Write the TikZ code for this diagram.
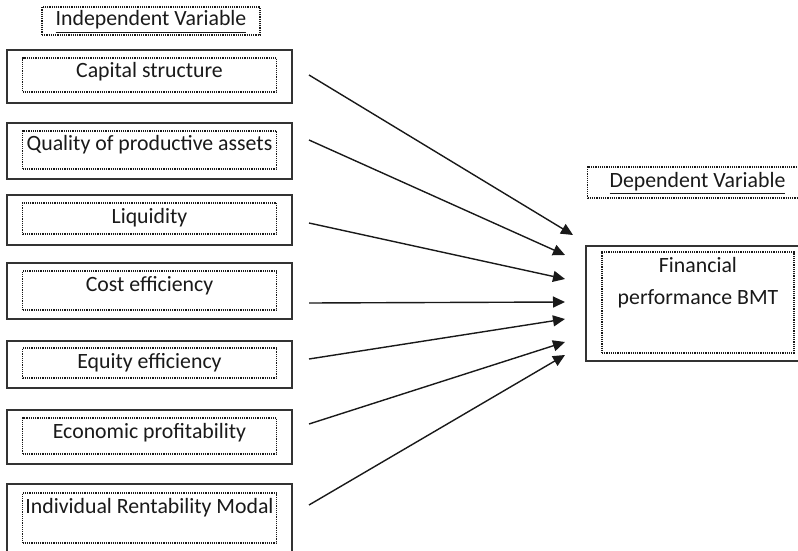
\documentclass[tikz,border=0pt]{standalone}
\usepackage{fontspec}
\setmainfont{Carlito}
\usetikzlibrary{arrows.meta,positioning}
\tikzstyle{varBox} = [rectangle, minimum width=142.5pt, outer sep=0pt, line width=1pt, draw=black!80]
\tikzstyle{varIn} = [rectangle, minimum width=127pt, outer sep=0pt, inner xsep=1pt, inner ysep=2.5pt, text height=7.5pt, anchor=north, line width=0.6pt, dash pattern=on 0.6pt off 0.5pt, draw=black!90, text=black!90]
\tikzstyle{headBox} = [rectangle, outer sep=0pt, inner ysep=2pt, text height=7.5pt, line width=0.6pt, dash pattern=on 0.6pt off 0.5pt, draw=black!90, text=black!90]
\tikzstyle{arrowK} = [line width=0.7pt, -{Triangle[length=6pt,width=5.5pt]}, draw=black!90]

\begin{document}
\begin{tikzpicture}[x=0.5pt, y=-0.5pt, font=\fontsize{10.9}{13}\selectfont]
        \clip (0,0) rectangle (798,551);

        \node (cap) [varBox, minimum height=26.5pt] at (149.5,76.5) {};
        \node (qual) [varBox, minimum height=28pt, below=10pt of cap] {};
        \node (liq) [varBox, minimum height=25pt, below=8pt of qual] {};
        \node (cost) [varBox, minimum height=28pt, below=9pt of liq] {};
        \node (equ) [varBox, minimum height=23.5pt, below=11pt of cost] {};
        \node (eco) [varBox, minimum height=27pt, below=11pt of equ] {};
        \node (ind) [varBox, minimum height=37pt, below=10pt of eco] {};

        \node (capIn) [varIn, text depth=4.5pt] at ([yshift=-4pt]cap.north) {Capital structure};
        \node (qualIn) [varIn, text depth=6.5pt] at ([yshift=-4pt]qual.north) {Quality of productive assets};
        \node (liqIn) [varIn, text depth=3pt] at ([yshift=-4pt]liq.north) {Liquidity};
        \node (costIn) [varIn, text depth=7pt] at ([yshift=-4pt]cost.north) {Cost efficiency};
        \node (equIn) [varIn, text depth=2.5pt] at ([yshift=-3.5pt]equ.north) {Equity efficiency};
        \node (ecoIn) [varIn, text depth=5.5pt] at ([yshift=-4pt]eco.north) {Economic profitability};
        \node (indIn) [varIn, text depth=12.5pt] at ([yshift=-4.5pt]ind.north) {Individual Rentability Modal};

        \node (hIndep) [headBox, minimum width=109pt, text depth=2.5pt, above=7.5pt of cap, xshift=0.75pt] {\underline{Independent Variable}};

        \node (fin) [varBox, minimum width=111.5pt, minimum height=57.5pt] at (697.5,303.5) {};
        \node (finIn) [varIn, minimum width=96pt, minimum height=50.5pt] at ([xshift=0.25pt,yshift=-3pt]fin.north) {};
        \node (finTxt) [align=center, anchor=north, inner sep=0pt, text=black!90, font=\fontsize{10.9}{16}\selectfont] at ([yshift=-2.3pt]finIn.north) {Financial\\performance BMT};
        \node (hDep) [headBox, minimum width=110pt, inner ysep=2.5pt, text depth=3pt, above=24pt of fin] {\underline{Dependent Variable}};

        \coordinate (t1) at ([xshift=-6.5pt,yshift=34.25pt]fin.west);
        \coordinate (t2) at ([xshift=-10.5pt,yshift=24.25pt]fin.west);
        \coordinate (t3) at ([xshift=-10.5pt,yshift=12.25pt]fin.west);
        \coordinate (t4) at ([xshift=-10.5pt,yshift=0.75pt]fin.west);
        \coordinate (t5) at ([xshift=-10.5pt,yshift=-7.75pt]fin.west);
        \coordinate (t6) at ([xshift=-10.5pt,yshift=-19.25pt]fin.west);
        \coordinate (t7) at ([xshift=-10.5pt,yshift=-25.75pt]fin.west);

        \draw [arrowK] ([xshift=8.5pt,yshift=0.75pt]cap.east) -- (t1);
        \draw [arrowK] ([xshift=8.5pt,yshift=5.5pt]qual.east) -- (t2);
        \draw [arrowK] ([xshift=8.5pt,yshift=-1.5pt]liq.east) -- (t3);
        \draw [arrowK] ([xshift=8.5pt,yshift=-6pt]cost.east) -- (t4);
        \draw [arrowK] ([xshift=8.5pt,yshift=2.75pt]equ.east) -- (t5);
        \draw [arrowK] ([xshift=8.5pt,yshift=6.5pt]eco.east) -- (t6);
        \draw [arrowK] ([xshift=8.5pt,yshift=8pt]ind.east) -- (t7);
\end{tikzpicture}
\end{document}
